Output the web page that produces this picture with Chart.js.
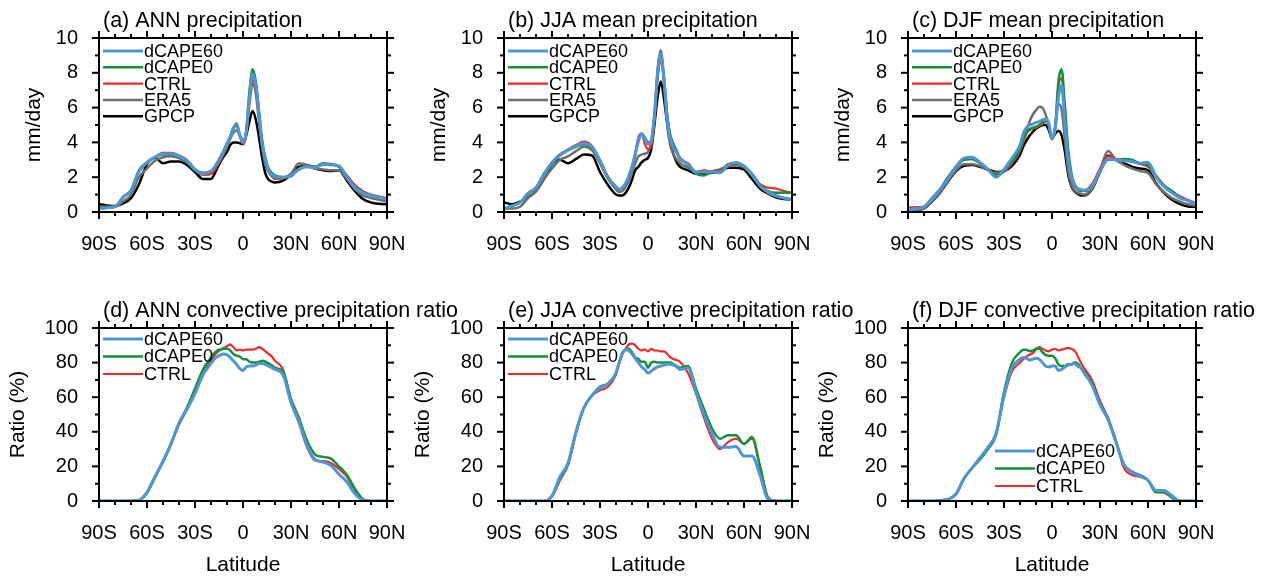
<!DOCTYPE html>
<html>
<head>
<meta charset="utf-8">
<script src="https://cdn.jsdelivr.net/npm/chart.js@4.4.1/dist/chart.umd.min.js"></script>
<style>
  html, body { margin: 0; padding: 0; background: #fff; }
  #wrap { position: relative; width: 1272px; height: 576px; overflow: hidden; }
  #wrap canvas { position: absolute; left: 0; top: 0; }
</style>
</head>
<body>
<div id="wrap"></div>
<script>
// latitude grid shared by every series (5 deg outside the tropics, 2 deg inside)
const lat = [
  -90, -85, -80, -75, -70, -65, -60, -55, -50, -45, -40, -35, -30, -25, -20,
  -18, -16, -14, -12, -10, -8, -6, -4, -2, 0, 2, 4, 6, 8, 10, 12, 14, 16, 18, 20,
  25, 30, 35, 40, 45, 50, 55, 60, 65, 70, 75, 80, 85, 90,
];

const seriesNames = ["dCAPE60", "dCAPE0", "CTRL", "ERA5", "GPCP"];
const seriesColors = ["#5096d2", "#16903e", "#ec2b2b", "#6e6e6e", "#000000"];
const seriesWidths = [3, 2.5, 2.2, 2.5, 2.5];

const latTicks = [-90, -60, -30, 0, 30, 60, 90];

// (a) annual precipitation, mm/day
const annDcape60 = [
  0.2, 0.25, 0.3, 0.85, 1.25, 2.35, 2.85, 3.15, 3.35, 3.35, 3.2, 2.95, 2.45, 2.2, 2.35,
  2.55, 2.85, 3.15, 3.5, 3.9, 4.3, 4.8, 5.0, 4.4, 4.0, 4.6, 6.6, 7.95, 7.3, 5.6, 3.9, 3.0, 2.4, 2.15, 2.05,
  2.0, 2.1, 2.45, 2.6, 2.55, 2.75, 2.7, 2.65, 2.0, 1.4, 1.1, 0.95, 0.85, 0.75,
];
const annDcape0 = [
  0.2, 0.25, 0.3, 0.85, 1.25, 2.4, 2.85, 3.15, 3.3, 3.3, 3.15, 2.9, 2.45, 2.25, 2.35,
  2.55, 2.85, 3.2, 3.55, 3.95, 4.35, 4.85, 5.05, 4.45, 4.0, 4.6, 6.9, 8.2, 7.5, 5.8, 4.1, 3.1, 2.5, 2.25, 2.1,
  2.0, 2.05, 2.5, 2.65, 2.6, 2.8, 2.75, 2.6, 2.0, 1.45, 1.15, 0.95, 0.85, 0.75,
];
const annCtrl = [
  0.2, 0.25, 0.3, 0.85, 1.25, 2.3, 2.8, 3.15, 3.4, 3.4, 3.25, 3.0, 2.45, 2.15, 2.2,
  2.4, 2.7, 3.0, 3.4, 3.8, 4.25, 4.8, 5.1, 4.4, 3.9, 4.4, 6.4, 7.6, 7.1, 5.5, 3.9, 2.9, 2.4, 2.15, 2.0,
  1.95, 2.15, 2.5, 2.7, 2.6, 2.7, 2.75, 2.6, 2.1, 1.55, 1.2, 1.0, 0.9, 0.8,
];
const annEra5 = [
  0.3, 0.3, 0.3, 0.6, 1.0, 2.0, 2.5, 2.95, 3.15, 3.2, 3.1, 2.85, 2.4, 2.15, 2.2,
  2.4, 2.7, 3.0, 3.35, 3.75, 4.2, 4.55, 4.7, 4.4, 4.1, 4.6, 6.2, 7.4, 6.8, 5.2, 3.7, 2.7, 2.3, 2.05, 1.9,
  1.95, 2.2, 2.8, 2.7, 2.5, 2.45, 2.4, 2.4, 1.9, 1.3, 0.95, 0.8, 0.7, 0.6,
];
const annGpcp = [
  0.45, 0.38, 0.35, 0.5, 0.8, 1.6, 2.75, 3.1, 2.8, 2.9, 2.9, 2.7, 2.3, 1.9, 1.9,
  2.15, 2.55, 2.9, 3.2, 3.45, 3.85, 4.0, 4.0, 3.95, 3.9, 4.4, 5.2, 5.8, 5.3, 4.3, 3.1, 2.2, 1.85, 1.75, 1.7,
  1.8, 2.15, 2.6, 2.65, 2.5, 2.4, 2.35, 2.4, 1.8, 1.2, 0.75, 0.55, 0.47, 0.44,
];

// (b) JJA precipitation, mm/day
const jjaDcape60 = [
  0.2, 0.35, 0.55, 1.05, 1.4, 2.15, 2.8, 3.25, 3.55, 3.8, 3.95, 3.75, 2.95, 2.0, 1.45,
  1.3, 1.4, 1.65, 2.05, 2.6, 3.3, 4.1, 4.5, 4.2, 3.9, 4.1, 5.6, 8.0, 9.1, 7.6, 5.4, 4.2, 3.7, 3.4, 3.1,
  2.75, 2.3, 2.3, 2.3, 2.25, 2.7, 2.85, 2.65, 2.15, 1.5, 1.15, 0.95, 0.8, 0.7,
];
const jjaDcape0 = [
  0.2, 0.35, 0.55, 1.05, 1.4, 2.2, 2.85, 3.3, 3.55, 3.75, 3.9, 3.7, 2.95, 2.0, 1.45,
  1.3, 1.4, 1.65, 2.05, 2.6, 3.3, 4.05, 4.5, 4.3, 4.0, 4.1, 5.5, 7.9, 9.0, 7.7, 5.6, 4.4, 3.9, 3.5, 3.1,
  2.7, 2.2, 2.1, 2.3, 2.3, 2.75, 2.8, 2.6, 2.2, 1.55, 1.2, 1.1, 1.1, 1.1,
];
const jjaCtrl = [
  0.2, 0.35, 0.55, 1.1, 1.4, 2.2, 2.8, 3.3, 3.6, 3.85, 4.05, 3.8, 2.95, 2.0, 1.45,
  1.3, 1.35, 1.6, 2.0, 2.55, 3.4, 4.3, 4.5, 3.9, 3.6, 3.8, 5.2, 7.6, 8.7, 7.5, 5.5, 4.4, 3.9, 3.4, 3.0,
  2.8, 2.3, 2.4, 2.3, 2.4, 2.6, 2.8, 2.6, 2.2, 1.6, 1.4, 1.35, 1.2, 1.1,
];
const jjaEra5 = [
  0.2, 0.2, 0.3, 0.8, 1.2, 1.9, 2.5, 3.0, 3.2, 3.5, 3.75, 3.55, 2.8, 1.9, 1.3,
  1.15, 1.2, 1.45, 1.8, 2.3, 2.8, 3.2, 3.3, 3.35, 3.45, 4.0, 5.4, 8.2, 9.3, 7.4, 5.0, 3.8, 3.3, 3.0, 2.8,
  2.55, 2.3, 2.3, 2.35, 2.45, 2.65, 2.7, 2.55, 2.1, 1.5, 1.1, 0.9, 0.8, 0.75,
];
const jjaGpcp = [
  0.55, 0.45, 0.6, 0.85, 1.2, 1.9, 2.75, 3.0, 2.8, 3.05, 3.3, 3.25, 2.3, 1.55, 1.0,
  0.95, 0.95, 1.1, 1.4, 1.85, 2.4, 2.6, 2.85, 3.0, 3.1, 3.6, 5.0, 6.6, 7.5, 6.5, 5.1, 4.0, 3.3, 2.85, 2.6,
  2.4, 2.2, 2.2, 2.25, 2.35, 2.55, 2.55, 2.45, 1.9, 1.35, 1.05, 0.85, 0.75, 0.7,
];

// (c) DJF precipitation, mm/day
const djfDcape60 = [
  0.13, 0.2, 0.3, 0.75, 1.3, 1.9, 2.6, 3.1, 3.15, 2.85, 2.45, 2.0, 2.45, 3.1, 3.85,
  4.5, 4.85, 5.0, 5.05, 5.15, 5.2, 5.3, 5.35, 5.1, 4.2, 4.8, 6.6, 7.3, 5.2, 3.2, 2.1, 1.6, 1.35, 1.3, 1.25,
  1.45, 2.35, 3.05, 3.0, 2.95, 2.9, 2.8, 2.85, 2.05, 1.45, 1.1, 0.8, 0.65, 0.45,
];
const djfDcape0 = [
  0.15, 0.2, 0.3, 0.8, 1.3, 2.0, 2.6, 3.0, 3.05, 2.8, 2.45, 2.15, 2.35, 2.9, 3.6,
  4.2, 4.6, 4.75, 4.85, 4.9, 5.0, 5.15, 5.3, 5.0, 4.2, 4.9, 7.5, 8.2, 6.2, 3.7, 2.3, 1.6, 1.3, 1.2, 1.2,
  1.4, 2.3, 3.0, 3.0, 3.05, 3.0, 2.8, 2.7, 2.0, 1.5, 1.2, 0.85, 0.65, 0.45,
];
const djfCtrl = [
  0.25, 0.28, 0.3, 0.8, 1.3, 2.0, 2.6, 3.0, 3.05, 2.8, 2.45, 2.1, 2.3, 2.8, 3.5,
  4.1, 4.5, 4.7, 4.8, 4.85, 4.95, 5.05, 5.2, 5.0, 4.2, 4.9, 7.2, 7.7, 5.8, 3.5, 2.1, 1.5, 1.3, 1.25, 1.25,
  1.6, 2.5, 3.2, 3.05, 3.0, 2.9, 2.75, 2.6, 2.1, 1.55, 1.2, 0.9, 0.7, 0.5,
];
const djfEra5 = [
  0.1, 0.12, 0.2, 0.6, 1.1, 1.8, 2.4, 2.75, 2.75, 2.65, 2.4, 2.25, 2.4, 2.9, 3.6,
  4.0, 4.6, 5.2, 5.6, 5.85, 6.05, 6.0, 5.6, 5.0, 4.3, 4.9, 6.2, 5.9, 4.2, 2.4, 1.6, 1.25, 1.1, 1.05, 1.0,
  1.35, 2.4, 3.5, 3.0, 2.7, 2.5, 2.35, 2.25, 1.6, 1.15, 0.8, 0.6, 0.45, 0.35,
];
const djfGpcp = [
  0.05, 0.1, 0.2, 0.6, 1.1, 1.75, 2.35, 2.65, 2.7, 2.6, 2.45, 2.3, 2.35, 2.65, 3.3,
  3.75, 4.1, 4.4, 4.6, 4.8, 4.9, 5.0, 5.0, 4.7, 4.2, 4.5, 4.65, 4.4, 3.5, 2.2, 1.5, 1.2, 1.05, 0.95, 0.95,
  1.3, 2.3, 3.25, 3.0, 2.8, 2.6, 2.5, 2.4, 1.65, 1.1, 0.7, 0.45, 0.32, 0.3,
];

// (d) ANN convective precipitation ratio, %
const annRatioDcape60 = [
  0, 0, 0, 0, 0, 0.5, 5, 14, 23, 33, 45, 53, 62, 73, 79.5,
  82, 83.5, 84.5, 85, 84.5, 83, 81, 79, 76.5, 75.5, 77.5, 78, 78, 78.5, 79.5, 79.5, 79, 78, 77, 76,
  73, 57, 46, 32, 24, 22.5, 20.5, 15.5, 11, 4, 0.5, 0, 0, 0,
];
const annRatioDcape0 = [
  0, 0, 0, 0, 0, 0.5, 5, 14, 23, 33, 45, 54, 65, 76, 83,
  85.5, 87, 87.5, 88, 88, 87, 85, 84, 83.5, 82, 82, 80.5, 80, 80, 80.5, 81, 80.5, 79.5, 78.5, 77,
  75, 59, 48, 35, 27, 25.5, 24.5, 20, 15, 7, 1, 0, 0, 0,
];
const annRatioCtrl = [
  0, 0, 0, 0, 0, 0.5, 4.5, 13.5, 22.5, 33, 44, 53, 63, 74, 81,
  84, 86, 87.5, 88.5, 89.5, 90.5, 89, 87, 87.5, 87, 87.5, 87.5, 87.5, 88, 89, 88, 86.5, 85, 83.5, 81,
  76, 57, 45, 31, 23.5, 23, 22, 18.5, 14, 6, 1, 0, 0, 0,
];

// (e) JJA convective precipitation ratio, %
const jjaRatioDcape60 = [
  0, 0, 0, 0, 0, 0, 3, 14, 22, 40, 54, 61, 65.5, 67.5, 74,
  80, 85.5, 87.5, 87, 85, 82.5, 80, 77.5, 76, 74, 75, 76.5, 77.5, 78, 78.5, 79, 79, 78.5, 77.5, 76,
  77, 63, 50, 39, 31, 31, 31.5, 26, 26, 15, 1, 0, 0, 0,
];
const jjaRatioDcape0 = [
  0, 0, 0, 0, 0, 0, 3, 13, 21, 40, 54, 61, 66, 68, 74,
  80, 85.5, 87.5, 88, 86, 83, 82, 80.5, 80.5, 77, 80, 80.5, 80, 80, 80, 80, 80, 79, 78, 77,
  78, 65, 53, 42, 36, 38, 38, 33, 37, 20, 2, 0, 0, 0,
];
const jjaRatioCtrl = [
  0, 0, 0, 0, 0, 0, 2.5, 12, 21, 39, 54, 61, 64, 66, 73,
  80, 85, 88, 90.5, 91, 90, 88, 87, 87.5, 86.5, 88, 87, 87, 86.5, 86.5, 85, 83, 82, 81.5, 80.5,
  74, 62, 48, 36, 30, 34, 36, 33, 36, 20, 2, 0, 0, 0,
];

// (f) DJF convective precipitation ratio, %
const djfRatioDcape60 = [
  0, 0, 0, 0, 0.3, 1, 4, 13, 19, 25, 31, 39, 61, 77, 82,
  83, 82.5, 81.5, 82, 82.5, 82, 80, 78, 77.5, 78, 78, 75.5, 76, 77.5, 78.5, 79, 79.5, 78, 77, 74,
  67, 55.5, 47, 34, 21, 16.5, 14.5, 12, 6, 6, 3, 0, 0, 0,
];
const djfRatioDcape0 = [
  0, 0, 0, 0, 0.3, 1, 4, 13, 19, 24, 30, 38, 63, 80, 86,
  87.5, 87.5, 86.5, 87, 88, 88, 86, 84.5, 84, 84, 82.5, 79, 78, 78, 79, 79, 80, 79.5, 77, 75,
  68, 56.5, 47.5, 34, 21, 17, 15, 12, 5, 5, 2, 0, 0, 0,
];
const djfRatioCtrl = [
  0, 0, 0, 0, 0.3, 1, 4, 13, 19, 25, 31, 38.5, 60, 75, 80,
  82, 83.5, 84.5, 85.5, 87.5, 89, 88, 87, 86.5, 87.5, 88, 87, 87.5, 88, 88.5, 88, 87, 84, 80, 77,
  70, 58, 48, 35, 19, 15, 14, 12, 5.5, 5, 2, 0, 0, 0,
];

Chart.defaults.font.family = "'Liberation Sans', Arial, Helvetica, sans-serif";
Chart.defaults.color = "#000";

function fmtLat(v) {
  if (v < 0) return `${-v}S`;
  if (v > 0) return `${v}N`;
  return "0";
}

// frame, outward ticks, panel title and legend (NCL look)
const panelDeco = {
  id: "panelDeco",
  afterDatasetsDraw(chart, args, opts) {
    const { ctx, chartArea: a } = chart;
    const x = chart.scales.x;
    const y = chart.scales.y;

    function seg(x0, y0, x1, y1) {
      ctx.beginPath();
      ctx.moveTo(x0, y0);
      ctx.lineTo(x1, y1);
      ctx.stroke();
    }

    ctx.save();
    ctx.strokeStyle = "#000";
    ctx.lineWidth = 2;
    ctx.strokeRect(a.left, a.top, a.right - a.left, a.bottom - a.top);

    for (let v = x.min; v <= x.max; v += opts.xMinor) {
      const px = x.getPixelForValue(v);
      const len = v % opts.xMajor === 0 ? 7 : 4;
      seg(px, a.bottom, px, a.bottom + len);
      seg(px, a.top, px, a.top - len);
    }
    for (let v = y.min; v <= y.max; v += opts.yMinor) {
      const py = y.getPixelForValue(v);
      const len = v % opts.yMajor === 0 ? 7 : 4;
      seg(a.left, py, a.left - len, py);
      seg(a.right, py, a.right + len, py);
    }

    ctx.fillStyle = "#000";
    ctx.font = "21.5px 'Liberation Sans', Arial, sans-serif";
    ctx.textAlign = "left";
    ctx.textBaseline = "alphabetic";
    ctx.fillText(opts.title, a.left + 4, a.top - 11);

    ctx.font = "18px 'Liberation Sans', Arial, sans-serif";
    ctx.textBaseline = "middle";
    chart.data.datasets.forEach((ds, i) => {
      const lx = a.left + opts.legendX;
      const ly = a.top + opts.legendY + i * opts.legendGap;
      ctx.strokeStyle = ds.borderColor;
      ctx.lineWidth = ds.borderWidth;
      seg(lx, ly, lx + 40, ly);
      ctx.fillText(ds.label, lx + 41, ly + 1);
    });
    ctx.restore();
  },
};

const panels = [
  { title: "(a) ANN precipitation", box: [99, 38, 387, 212], series: [annDcape60, annDcape0, annCtrl, annEra5, annGpcp], kind: "pr", legend: [4, 13, 16.3] },
  { title: "(b) JJA mean precipitation", box: [504, 38, 792, 212], series: [jjaDcape60, jjaDcape0, jjaCtrl, jjaEra5, jjaGpcp], kind: "pr", legend: [4, 13, 16.3] },
  { title: "(c) DJF mean precipitation", box: [908, 38, 1196, 212], series: [djfDcape60, djfDcape0, djfCtrl, djfEra5, djfGpcp], kind: "pr", legend: [4, 13, 16.3] },
  { title: "(d) ANN convective precipitation ratio", box: [99, 328, 387, 501], series: [annRatioDcape60, annRatioDcape0, annRatioCtrl], kind: "ratio", legend: [4, 11, 17.5] },
  { title: "(e) JJA convective precipitation ratio", box: [504, 328, 792, 501], series: [jjaRatioDcape60, jjaRatioDcape0, jjaRatioCtrl], kind: "ratio", legend: [4, 11, 17.5] },
  { title: "(f) DJF convective precipitation ratio", box: [908, 328, 1196, 501], series: [djfRatioDcape60, djfRatioDcape0, djfRatioCtrl], kind: "ratio", legend: [87, 123, 17.5] },
];

function makePanel(p) {
  const [L, T, R, B] = p.box;
  const isRatio = p.kind === "ratio";
  const xh = isRatio ? 75 : 40;
  const canvas = document.createElement("canvas");
  canvas.width = 1272;
  canvas.height = 576;
  document.getElementById("wrap").appendChild(canvas);

  const datasets = p.series.map((values, i) => ({
    label: seriesNames[i],
    data: lat.map((la, k) => ({ x: la, y: values[k] })),
    borderColor: seriesColors[i],
    borderWidth: seriesWidths[i],
    pointRadius: 0,
    cubicInterpolationMode: "monotone",
    fill: false,
  }));

  new Chart(canvas, {
    type: "line",
    data: { datasets },
    options: {
      responsive: false,
      animation: false,
      events: [],
      layout: { padding: { left: L - 99, top: T, right: 1272 - R, bottom: 576 - B - xh } },
      plugins: {
        legend: { display: false },
        tooltip: { enabled: false },
        panelDeco: {
          title: p.title,
          xMinor: 10,
          xMajor: 30,
          yMinor: isRatio ? 10 : 1,
          yMajor: isRatio ? 20 : 2,
          legendX: p.legend[0],
          legendY: p.legend[1],
          legendGap: p.legend[2],
        },
      },
      scales: {
        x: {
          type: "linear",
          min: -90,
          max: 90,
          afterFit: (s) => { s.height = xh; },
          afterBuildTicks: (s) => { s.ticks = latTicks.map((v) => ({ value: v })); },
          grid: { display: false, drawTicks: false },
          border: { display: false },
          ticks: { autoSkip: false, maxRotation: 0, padding: 20, font: { size: 20 }, color: "#000", callback: fmtLat },
          title: {
            display: isRatio,
            text: "Latitude",
            font: { size: 21, lineHeight: 1 },
            color: "#000",
            padding: { top: 0, bottom: 0 },
          },
        },
        y: {
          min: 0,
          max: isRatio ? 100 : 10,
          afterFit: (s) => { s.width = 99; },
          grid: { display: false, drawTicks: false },
          border: { display: false },
          ticks: { stepSize: isRatio ? 20 : 2, padding: 21, font: { size: 20 }, color: "#000" },
          title: {
            display: true,
            text: isRatio ? "Ratio (%)" : "mm/day",
            font: { size: 21 },
            color: "#000",
            padding: { top: isRatio ? 5.4 : 21.4, bottom: 0 },
          },
        },
      },
    },
    plugins: [panelDeco],
  });
}

panels.forEach(makePanel);
</script>
</body>
</html>
